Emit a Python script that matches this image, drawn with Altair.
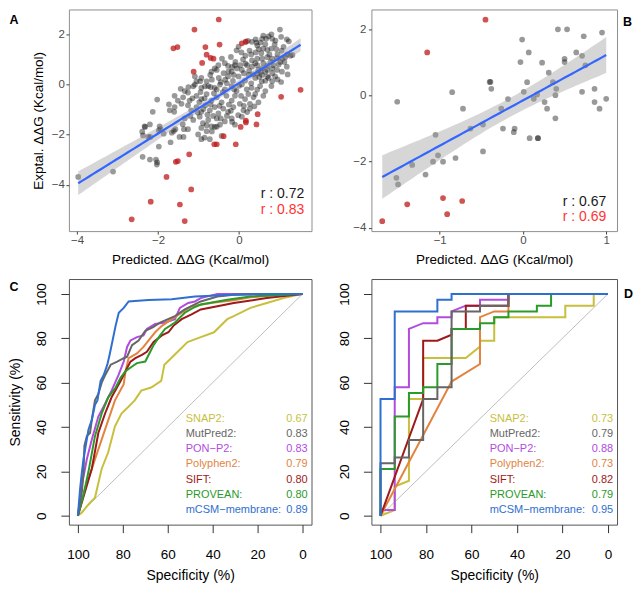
import altair as alt
import numpy as np
import pandas as pd

FONT = "Liberation Sans"

# ---------------- Panel A data (Predicted vs experimental ddG) ----------------
a_gray = [
    (-3.97, -3.68), (-3.11, -3.47),
    (-2.39, -1.88), (-2.32, -1.69), (-2.19, -2.09), (-2.37, -2.03), (-2.20, -1.59), (-2.33, -1.67),
    (-2.24, -2.09), (-2.38, -2.88), (-2.20, -2.99), (-2.05, -2.99), (-2.02, -3.10), (-2.03, -3.19),
    (-1.98, -2.47), (-1.96, -1.67), (-1.94, -1.78), (-1.98, -1.83), (-1.86, -1.96),
    (-1.69, -2.30), (-1.61, -1.85), (-1.57, -1.78), (-1.47, -2.09), (-1.37, -2.09),
    (-1.39, -1.58), (-1.26, -1.78), (-1.36, -1.78), (-1.66, -1.92),
    (-2.02, -0.60), (-2.13, -1.09), (-1.73, -0.79), (-1.60, -1.09), (-1.44, -0.17), (-1.42, -0.77),
    (-1.34, -0.26), (-1.51, -0.64),
    (-1.26, -0.32), (-1.09, 0.00), (-0.93, -0.13), (-0.76, -0.06), (-0.60, -0.13), (-0.47, 0.00),
    (-0.35, -0.19), (-0.18, -0.06), (-0.06, -0.26), (0.07, 0.00), (0.19, -0.19), (0.31, -0.13),
    (0.40, -0.38), (0.52, -0.06), (0.65, -0.26), (0.80, -0.06), (1.04, 0.10),
    (-1.59, -0.45), (-1.38, -0.51), (-1.22, -0.64), (-1.05, -0.45), (-0.93, -0.58), (-0.80, -0.38),
    (-0.68, -0.64), (-0.55, -0.51), (-0.43, -0.71), (-0.31, -0.45), (-0.18, -0.64), (-0.10, -0.45),
    (0.02, -0.77), (0.15, -0.58), (0.27, -0.77), (0.36, -0.51), (0.48, -0.71), (0.23, -0.38),
    (-1.71, -1.03), (-1.59, -0.90), (-1.26, -0.83), (-1.18, -1.03), (-1.05, -0.90), (-0.93, -1.09),
    (-0.83, -0.83), (-0.72, -1.03), (-0.60, -0.90), (-0.51, -1.15), (-0.39, -0.96), (-0.27, -1.09),
    (-0.14, -0.90), (-0.02, -1.22), (0.11, -1.03), (0.27, -0.96), (0.38, -0.87), (0.07, -1.28),
    (-1.34, -1.35), (-1.13, -1.41), (-0.97, -1.28), (-0.89, -1.54), (-0.76, -1.41), (-0.68, -1.67),
    (-0.55, -1.35), (-0.47, -1.60), (-0.35, -1.47), (-0.18, -1.35), (-0.10, -1.60), (-0.93, -1.73),
    (-0.60, -1.69), (-0.80, -1.86),
    (-1.01, -1.99), (-0.85, -2.12), (-0.72, -2.18), (-0.43, -2.05), (-0.93, -2.18),
    (-0.80, -1.62), (-0.55, -1.68), (-0.67, -1.87), (-0.17, -1.49),
    (-1.15, -0.55), (-0.98, -0.70), (-0.85, -0.55), (-0.70, -0.80), (-0.62, -0.35), (-0.48, -0.85),
    (-0.40, -0.30), (-0.25, -0.80), (-0.12, -0.20), (0.05, -0.45), (0.12, -0.85), (-0.78, -1.20),
    (-0.64, -1.25), (-0.45, -1.35), (-0.30, -1.25), (-1.02, -1.12), (-0.88, -0.98), (-1.20, -1.25),
    (-0.20, -1.05), (0.20, -1.10), (-0.55, -0.20), (-0.70, -0.10), (-0.95, -0.30), (-1.25, -0.10),
    (-0.30, 0.05), (0.00, -0.05), (0.30, 0.05), (0.45, -0.20), (0.60, -0.45), (0.15, 0.15),
    (-0.15, 0.15), (-0.45, 0.10),
    (1.01, 2.19), (0.80, 2.00), (1.04, 1.90), (1.18, 1.80), (1.23, 1.72), (0.57, 1.82), (0.67, 1.82),
    (0.82, 1.82), (0.41, 1.80), (0.43, 1.67), (0.53, 1.67), (0.32, 1.70), (0.16, 1.69), (0.22, 1.74),
    (-0.01, 1.51), (-0.06, 1.36), (0.06, 1.28), (0.16, 1.15), (0.26, 1.35), (0.41, 1.28), (0.49, 1.41),
    (0.60, 1.43), (0.70, 1.38), (0.80, 1.43), (0.92, 1.41), (1.05, 1.35), (1.19, 1.20), (1.32, 1.18),
    (0.32, 0.96), (0.45, 1.03), (0.57, 1.03), (0.70, 1.09), (0.82, 1.03), (0.94, 1.05), (1.07, 1.03),
    (0.20, 0.77), (0.32, 0.71), (0.45, 0.77), (0.57, 0.64), (0.70, 0.58), (0.82, 0.64), (0.94, 0.58),
    (0.45, 0.45), (0.57, 0.38), (0.70, 0.32), (0.82, 0.45), (0.53, 0.51), (0.65, 0.51),
    (0.82, 0.13), (0.89, 0.32),
    (-0.09, 0.90), (0.03, 0.77), (0.16, 0.83), (0.07, 0.58), (-0.05, 0.64), (-0.17, 0.70),
    (-0.26, 0.51), (-0.38, 0.45), (-0.13, 0.38), (-0.01, 0.32), (0.12, 0.45), (0.24, 0.38),
    (-0.42, 1.03), (-0.55, 0.58), (-0.60, 0.64), (-0.27, 0.74),
    (-0.71, 0.38), (-0.80, 0.13), (-0.67, 0.19), (-0.50, 0.26), (-0.34, 0.19),
    (-1.09, 0.32), (-1.13, -0.07), (-0.96, 0.13), (-0.84, -0.07),
    (-0.51, 0.77), (-0.68, 0.51), (-0.93, 0.26), (-1.05, 0.13), (-0.10, 0.77), (-0.18, 0.51),
    (-0.27, 0.32), (0.40, 0.26), (0.56, 0.13), (0.73, 0.26), (1.06, 0.51), (1.18, 0.71),
    (1.02, 0.90), (0.85, 0.77), (0.48, 0.58), (1.14, 1.09), (1.27, 1.15), (0.73, 1.92),
    (0.30, 1.20), (0.55, 1.25), (0.75, 1.20), (0.95, 1.20), (1.10, 1.50), (0.88, 1.60), (0.65, 1.60),
    (0.45, 1.55), (0.25, 0.55), (0.40, 0.85), (0.60, 0.85), (0.78, 0.90), (0.98, 0.80), (1.12, 0.90),
    (0.70, 0.75), (0.50, 0.30), (0.65, 0.15), (0.95, 0.20), (1.20, 0.40), (0.35, 0.40), (0.10, 1.00),
    (-0.20, 1.10), (-0.35, 0.85), (0.60, 1.95), (0.90, 1.75),
]
a_red = [
    (-0.50, 2.59), (-1.10, 2.19), (-1.62, 1.44), (-1.52, 1.49), (-0.83, 1.49), (-0.48, 1.59),
    (-0.80, 1.19), (-0.70, 1.06), (-0.63, 1.03), (-0.91, 0.86), (-1.12, 0.51), (0.07, 1.64),
    (0.17, 1.71), (1.52, -0.21), (1.04, -0.49), (0.46, -1.18), (0.17, -1.44), (0.17, -1.51),
    (0.43, -1.59), (0.04, -1.69), (-0.38, -2.06), (-0.61, -2.38), (-0.55, -2.38), (-0.08, -2.38),
    (-1.23, -2.78), (-1.56, -3.08), (-1.51, -3.05), (-1.79, -3.68), (-1.18, -4.18), (-2.18, -4.67),
    (-1.46, -4.78), (-2.65, -5.37), (-1.34, -5.44),
]
a_r_labels = ["r : 0.72", "r : 0.83"]

# ---------------- Panel B data ----------------
b_gray = [
    (-1.51, -0.19), (-0.85, 0.10), (-0.72, -0.40), (-0.40, 0.41), (-0.39, 0.41), (-0.38, 0.20),
    (-0.63, -1.00), (-0.48, -0.88), (-0.48, -1.69), (-0.26, -0.40), (-0.18, -0.11), (-0.24, -1.00),
    (-0.10, -1.00), (-0.11, -1.11), (-0.03, 1.01), (-0.01, 1.69), (0.07, 1.30), (0.01, 0.11),
    (0.05, 0.40), (0.08, -1.29), (0.13, -0.10), (0.17, 0.03), (0.18, -1.29), (0.18, -1.29),
    (0.23, 0.99), (0.26, -0.20), (0.29, -0.40), (0.31, 0.69), (0.36, 0.40), (0.39, 0.01),
    (0.40, 0.20), (0.39, -0.69), (0.42, 2.00), (0.53, 2.00), (0.50, 1.11), (0.50, 1.01),
    (0.64, 1.30), (0.73, 1.79), (0.71, 1.20), (0.75, 0.91), (0.71, 0.11), (0.86, 0.20),
    (0.86, -0.20), (0.92, -0.40), (0.95, 1.90), (1.00, -0.10), (-1.05, -1.19), (-1.02, -1.81),
    (-1.08, -2.00), (-0.96, -2.00), (-0.81, -1.89), (-1.33, -2.10), (-1.17, -2.39), (-1.52, -2.49),
    (-1.50, -2.69),
]
b_red = [(-0.45, 2.29), (-1.15, 1.30), (-1.69, -3.80), (-1.39, -3.29), (-0.96, -3.10),
         (-0.91, -3.59), (-0.73, -3.19)]
b_r_labels = ["r : 0.67", "r : 0.69"]

# ---------------- ROC data ----------------
tools = ["SNAP2", "MutPred2", "PON\u2212P2", "Polyphen2", "SIFT", "PROVEAN", "mCSM\u2212membrane"]
tool_colors = ["#C8BF3E", "#666666", "#B24BDF", "#E2843F", "#9E1A1A", "#2A9A2A", "#2F6FD0"]
auc_c = ["0.67", "0.83", "0.83", "0.79", "0.80", "0.80", "0.89"]
auc_d = ["0.73", "0.79", "0.88", "0.73", "0.82", "0.79", "0.95"]

c_spec = {
    "SNAP2": [100, 98.2, 95.3, 92.4, 89.4, 86.5, 83.5, 80.6, 77.6, 74.7, 71.8, 67.4, 62.9, 61.5, 58.5,
              54.1, 51.2, 45.3, 39.4, 33.5, 30.6, 23.2, 15.9, 8.5, 0],
    "MutPred2": [100, 98.2, 97.5, 97.1, 96, 94.6, 93.8, 92.4, 90.9, 89.4, 87.7, 85.4, 82.5, 79.6, 78.1,
                 75.9, 73, 70, 66.5, 63.4, 56.8, 52.4, 45.3, 37.9, 30.6, 15.9, 0],
    "PON\u2212P2": [100, 98.2, 96, 93.8, 90.9, 87.9, 85, 81.8, 79.6, 78.1, 76.6, 73.7, 70.8, 69.3, 65.6,
                    61.2, 56.8, 54.6, 50.9, 47.9, 45.3, 37.9, 0],
    "Polyphen2": [100, 96.8, 93.8, 89.4, 83.5, 79.6, 78.8, 77.4, 73.7, 70.8, 68.5, 65.6, 62.6, 58.2, 53.8,
                  49.4, 40, 30.6, 23.2, 8.5, 0],
    "SIFT": [100, 96.8, 93.8, 90.9, 87.9, 85, 81, 78.8, 76.6, 74.4, 71.5, 69.3, 66.3, 62.6, 59.7, 57.5,
             53.8, 49.4, 45.3, 37.9, 30.6, 15.9, 0],
    "PROVEAN": [100, 97.5, 95.3, 92.4, 89.4, 86.5, 83.2, 81, 78.8, 75.9, 73.7, 70, 67.8, 66.3, 63.4, 61.2,
                56.8, 52.4, 48.7, 45.3, 33.5, 23.2, 0],
    "mCSM\u2212membrane": [100, 99, 98.2, 97.5, 95.3, 93.8, 92.4, 91.3, 89.9, 88.4, 86.9, 85.9, 84.7, 83.2,
                           81.8, 79.6, 77.4, 74.7, 68.5, 58.2, 47.9, 30.6, 15.9, 0],
}
c_sens = {
    "SNAP2": [0, 1.5, 5.1, 8.1, 21.2, 28.6, 40.3, 46.1, 49, 52, 56.4, 57.8, 60.8, 68.1, 71, 75.4, 78.3,
              80.5, 82.7, 88.6, 90, 93.7, 95.9, 98.1, 100],
    "MutPred2": [0, 11, 19.8, 31.5, 35.9, 37.3, 43.2, 52, 54.9, 60, 63.7, 68.1, 69.5, 71, 71.7, 76.9, 79,
                 83.4, 85, 87.1, 90, 93, 96.6, 98.8, 99.6, 100, 100],
    "PON\u2212P2": [0, 13.9, 25.6, 34.4, 44.7, 50.5, 56.4, 63.7, 69.5, 76.1, 79, 80.5, 81.3, 84.2, 86.4,
                    87.1, 88.6, 93.7, 95.9, 96.6, 98.1, 100, 100],
    "Polyphen2": [0, 12.4, 21.2, 34.4, 52, 59.3, 65.1, 71, 73.2, 76.1, 79, 82.7, 85.6, 88.6, 91.5, 94.4,
                  96, 97.1, 98.5, 99.6, 100],
    "SIFT": [0, 11, 21.2, 37.3, 46.1, 53.4, 60.7, 65.1, 69.5, 71, 72.5, 73.9, 78.3, 81.3, 82.7, 85.6,
             88.6, 90.8, 93, 94.4, 95.9, 98.1, 100],
    "PROVEAN": [0, 9.5, 19.8, 35.9, 46.1, 53.4, 57.8, 62.2, 65.1, 67.3, 68.8, 69.5, 73.9, 76.9, 81.3,
                84.2, 87.1, 91.5, 93.7, 95.2, 97.4, 98.8, 100],
    "mCSM\u2212membrane": [0, 12.4, 19.8, 25.6, 38.8, 43.2, 50, 52, 60.7, 63.7, 68.1, 72.5, 78.3, 85.7,
                           91.5, 93.7, 96.6, 96.8, 97.3, 97.6, 98.8, 99.6, 100, 100],
}

d_spec = {
    "SNAP2": [100, 93.75, 93.75, 87.5, 87.5, 81.25, 81.25, 62.5, 56.25, 56.25, 50, 50, 18.75, 18.75,
              6.25, 6.25, 0],
    "MutPred2": [100, 100, 93.75, 93.75, 87.5, 87.5, 81.25, 81.25, 75, 75, 68.75, 68.75, 56.25, 56.25,
                 43.75, 43.75, 0],
    "PON\u2212P2": [100, 100, 93.75, 93.75, 87.5, 87.5, 81.25, 75, 75, 68.75, 68.75, 62.5, 56.25, 56.25,
                    43.75, 43.75, 0],
    "Polyphen2": [100, 68.75, 56.25, 56.25, 50, 43.75, 43.75, 0],
    "SIFT": [100, 81.25, 81.25, 75, 68.75, 68.75, 62.5, 62.5, 43.75, 43.75, 0],
    "PROVEAN": [100, 100, 93.75, 93.75, 87.5, 87.5, 81.25, 81.25, 75, 75, 68.75, 68.75, 56.25, 56.25,
                50, 50, 43.75, 43.75, 31.25, 31.25, 25, 25, 0],
    "mCSM\u2212membrane": [100, 100, 93.75, 93.75, 75, 75, 68.75, 68.75, 0],
}
d_sens = {
    "SNAP2": [0, 2.6, 13.2, 15.8, 52.6, 52.6, 71.1, 71.1, 76.3, 78.9, 78.9, 89.5, 89.5, 94.7, 94.7,
              100, 100],
    "MutPred2": [0, 23.7, 23.7, 26.3, 26.3, 34.2, 34.2, 52.6, 52.6, 57.9, 57.9, 92.1, 92.1, 94.7, 94.7,
                 100, 100],
    "PON\u2212P2": [0, 2.6, 2.6, 57.9, 57.9, 84.2, 86.8, 86.8, 89.5, 89.5, 92.1, 94.7, 94.7, 97.4, 97.4,
                    100, 100],
    "Polyphen2": [0, 60.5, 68.4, 89.5, 92.1, 92.1, 100, 100],
    "SIFT": [0, 52.6, 78.9, 78.9, 81.6, 84.2, 84.2, 94.7, 94.7, 100, 100],
    "PROVEAN": [0, 21.1, 21.1, 44.7, 44.7, 55.3, 55.3, 57.9, 57.9, 68.4, 68.4, 84.2, 84.2, 86.8, 86.8,
                89.5, 89.5, 92.1, 92.1, 94.7, 94.7, 100, 100],
    "mCSM\u2212membrane": [0, 52.6, 52.6, 92.1, 92.1, 97.4, 97.4, 100, 100],
}
diag_spec = [100, 0]
diag_sens = [0, 100]

# ---------------- layout constants ----------------
W1, W2 = 243, 246
H1, H2 = 222, 246
draw_order = ["SNAP2", "PON\u2212P2", "Polyphen2", "SIFT", "PROVEAN", "MutPred2", "mCSM\u2212membrane"]


def ols_band(pts, t):
    arr = np.array(pts, dtype=float)
    x, y = arr[:, 0], arr[:, 1]
    n = len(x)
    b1, b0 = np.polyfit(x, y, 1)
    xs = np.linspace(x.min(), x.max(), 60)
    fit = b0 + b1 * xs
    s = np.sqrt(np.sum((y - (b0 + b1 * x)) ** 2) / (n - 2))
    sxx = np.sum((x - x.mean()) ** 2)
    half = t * s * np.sqrt(1.0 / n + (xs - x.mean()) ** 2 / sxx)
    return pd.DataFrame({"x": xs, "y": fit - half, "y2": fit + half, "fit": fit})


def letter_layer(letter, px, py):
    return alt.Chart(pd.DataFrame({"k": [0]})).mark_text(
        text=letter, fontWeight="bold", fontSize=12.5, align="left", baseline="middle", color="black"
    ).encode(x=alt.value(px), y=alt.value(py))


def scatter_panel(gray, red, xdom, ydom, xticks, yticks, ytitle, rlabels, rx, ry, W, H,
                  letter, lx, ly, t, ylabpad):
    xax = alt.Axis(values=xticks, title="Predicted. \u0394\u0394G (Kcal/mol)", grid=False, domain=False,
                   tickSize=3, tickColor="#444444", labelColor="#4D4D4D", labelFontSize=11.5,
                   labelPadding=0.5, titleFontSize=13.5, titleFontWeight="normal", titleColor="black",
                   titleY=32, titleBaseline="alphabetic", labelFlush=False)
    yargs = dict(values=yticks, grid=False, domain=False, tickSize=3, tickColor="#444444",
                 labelColor="#4D4D4D", labelFontSize=11.5, labelPadding=ylabpad, labelFlush=False)
    if ytitle:
        yax = alt.Axis(title=ytitle, titleFontSize=13.5, titleFontWeight="normal", titleColor="black",
                       titleX=-26, titleBaseline="alphabetic", **yargs)
    else:
        yax = alt.Axis(title=None, **yargs)
    X = alt.X("x:Q", scale=alt.Scale(domain=xdom, nice=False, zero=False), axis=xax)
    Y = alt.Y("y:Q", scale=alt.Scale(domain=ydom, nice=False, zero=False), axis=yax)

    gdf = pd.DataFrame(gray, columns=["x", "y"])
    rdf = pd.DataFrame(red, columns=["x", "y"])
    band = ols_band(gray + red, t)

    pts_g = alt.Chart(gdf).mark_circle(size=33, color="black", opacity=0.4).encode(x=X, y=Y)
    pts_r = alt.Chart(rdf).mark_circle(size=33, color="#BF1A1A", opacity=0.75).encode(x=X, y=Y)
    area = alt.Chart(band).mark_area(color="#999999", opacity=0.4).encode(x=X, y=Y, y2="y2:Q")
    line = alt.Chart(band).mark_line(color="#3366FF", strokeWidth=2.2).encode(
        x=X, y=alt.Y("fit:Q", scale=alt.Scale(domain=ydom, nice=False, zero=False), axis=yax))
    rdf_t = pd.DataFrame({"x": [rx, rx], "y": ry, "label": rlabels})
    r1 = alt.Chart(rdf_t.iloc[[0]]).mark_text(align="right", baseline="middle", fontSize=14,
                                              color="#1A1A1A").encode(x=X, y=Y, text="label:N")
    r2 = alt.Chart(rdf_t.iloc[[1]]).mark_text(align="right", baseline="middle", fontSize=14,
                                              color="#FF3333").encode(x=X, y=Y, text="label:N")
    return alt.layer(pts_g, pts_r, area, line, r1, r2, letter_layer(letter, lx, ly)).properties(
        width=W, height=H, view=alt.ViewBackground(stroke="#8F8F8F", strokeWidth=1))


def roc_panel(spec_d, sens_d, aucs, W, H, ytitle, letter, lx, ly):
    xax = alt.Axis(values=[0, 20, 40, 60, 80, 100], title="Specificity (%)", grid=False, domain=False,
                   tickSize=8, tickColor="#333333", labelColor="black", labelFontSize=13.5,
                   labelPadding=14.5, titleFontSize=14, titleFontWeight="normal", titleColor="black",
                   titleY=55, titleBaseline="alphabetic", labelFlush=False)
    yargs = dict(values=[0, 20, 40, 60, 80, 100], grid=False, domain=False, tickSize=8,
                 tickColor="#333333", labelColor="black", labelFontSize=13.5, labelAngle=270,
                 labelAlign="center", labelBaseline="alphabetic", labelPadding=15, labelFlush=False)
    if ytitle:
        yax = alt.Axis(title=ytitle, titleFontSize=14, titleFontWeight="normal", titleColor="black",
                       titleX=-53, titleBaseline="middle", **yargs)
    else:
        yax = alt.Axis(title=None, **yargs)
    X = alt.X("x:Q", scale=alt.Scale(domain=[-4, 104], reverse=True, nice=False, zero=False), axis=xax)
    Y = alt.Y("y:Q", scale=alt.Scale(domain=[-4, 106.7], nice=False, zero=False), axis=yax)

    layers = [alt.Chart(pd.DataFrame({"x": diag_spec, "y": diag_sens, "i": [0, 1]})).mark_line(
        color="#BEBEBE", strokeWidth=1).encode(x=X, y=Y, order="i:Q")]
    for tool in draw_order:
        col = tool_colors[tools.index(tool)]
        df = pd.DataFrame({"x": spec_d[tool], "y": sens_d[tool], "i": range(len(spec_d[tool]))})
        layers.append(alt.Chart(df).mark_line(color=col, strokeWidth=2).encode(x=X, y=Y, order="i:Q"))

    cscale = alt.Scale(domain=tools, range=tool_colors)
    rows = [43.6 - 6.83 * k for k in range(len(tools))]
    lab = pd.DataFrame({"x": [52.0] * len(tools), "y": rows, "label": [t + ":" for t in tools],
                        "tool": tools})
    val = pd.DataFrame({"x": [-2.3] * len(tools), "y": rows, "label": aucs, "tool": tools})
    layers.append(alt.Chart(lab).mark_text(align="left", baseline="middle", fontSize=11).encode(
        x=X, y=Y, text="label:N", color=alt.Color("tool:N", scale=cscale, legend=None)))
    layers.append(alt.Chart(val).mark_text(align="right", baseline="middle", fontSize=11).encode(
        x=X, y=Y, text="label:N", color=alt.Color("tool:N", scale=cscale, legend=None)))
    layers.append(letter_layer(letter, lx, ly))
    return alt.layer(*layers).properties(
        width=W, height=H, view=alt.ViewBackground(stroke="#555555", strokeWidth=1))


pA = scatter_panel(a_gray, a_red, [-4.2, 1.79], [-5.84, 2.99], [-4, -2, 0], [-4, -2, 0, 2],
                   "Exptal. \u0394\u0394G (Kcal/mol)", a_r_labels, 1.61, [-4.37, -5.0], W1, H1,
                   "A", -59.5, 11, 1.97, 1.5)
pB = scatter_panel(b_gray, b_red, [-1.82, 1.13], [-4.1, 2.6], [-1, 0, 1], [-4, -2, 0, 2],
                   None, b_r_labels, 1.0, [-3.21, -3.67], W2, H1,
                   "B", W2 + 6, 13, 2.0, 2.5)
pC = roc_panel(c_spec, c_sens, auc_c, W1, H2, "Sensitivity (%)", "C", -59.5, 8)
pD = roc_panel(d_spec, d_sens, auc_d, W2, H2, None, "D", W2 + 7, 15)

chart = alt.concat(pA, pB, pC, pD, columns=2, spacing={"row": 48, "column": 60},
                   bounds="flush", align="each", padding=0).configure(font=FONT)

chart.save("out.html", embed_options={"renderer": "svg", "actions": False})
